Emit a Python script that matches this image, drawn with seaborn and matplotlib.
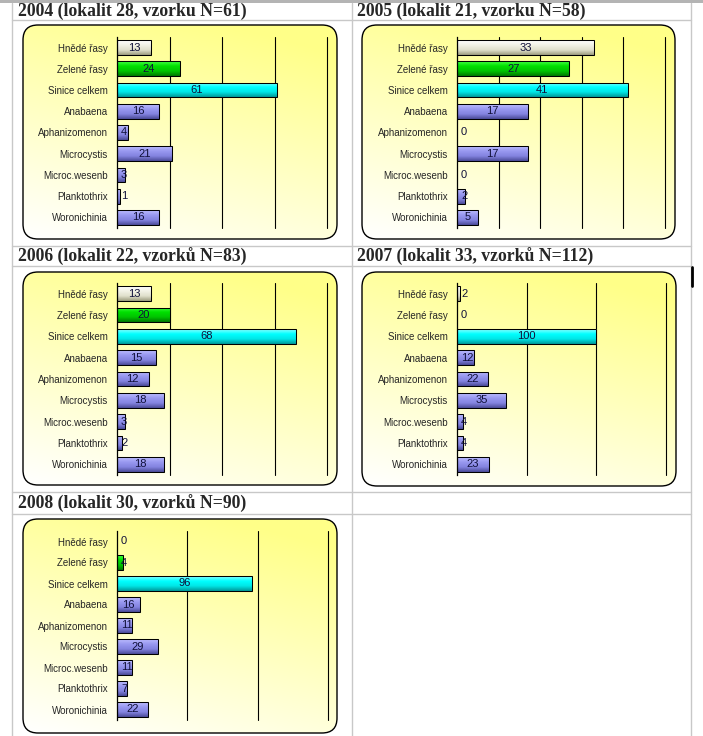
import numpy as np
import matplotlib.pyplot as plt
from matplotlib.colors import LinearSegmentedColormap, to_rgb
from matplotlib.patches import FancyBboxPatch, Rectangle
import seaborn as sns

# ---- data ----
categories = ["Hnědé řasy", "Zelené řasy", "Sinice celkem", "Anabaena",
              "Aphanizomenon", "Microcystis", "Microc.wesenb", "Planktothrix",
              "Woronichinia"]
values_2004 = [13, 24, 61, 16, 4, 21, 3, 1, 16]
values_2005 = [33, 27, 41, 17, 0, 17, 0, 2, 5]
values_2006 = [13, 20, 68, 15, 12, 18, 3, 2, 18]
values_2007 = [2, 0, 100, 12, 22, 35, 4, 4, 23]
values_2008 = [0, 4, 96, 16, 11, 29, 11, 7, 22]
titles = ["2004 (lokalit 28, vzorku N=61)",
          "2005 (lokalit 21, vzorku N=58)",
          "2006 (lokalit 22, vzorků N=83)",
          "2007 (lokalit 33, vzorků N=112)",
          "2008 (lokalit 30, vzorků N=90)"]
x_max = [80, 50, 80, 150, 150]
x_step = [20, 10, 20, 50, 50]
all_values = [values_2004, values_2005, values_2006, values_2007, values_2008]

# ---- layout (pixels of the 703x736 page) ----
W, H = 703, 736
AXES_PX = [(117, 37, 327, 228), (457, 37, 665, 228),
           (117, 283, 327, 475), (457, 283, 666, 475),
           (117, 531, 328, 720)]
BOX_PX = [(23, 25, 337, 239), (362, 25, 675, 239),
          (23, 272, 337, 485), (362, 272, 676, 486),
          (23, 519, 337, 733)]
TITLE_PX = [(18, 16), (357, 16), (18, 262), (357, 262), (18, 509)]

# bar shading top -> bottom
BROWN = ["#ffffff", "#f2f2e6", "#e0e0cc", "#9e9e80"]
GREEN = ["#44ff44", "#00e000", "#00c400", "#007a00"]
CYAN = ["#88ffff", "#00ffff", "#00e6e6", "#009a9a"]
BLUE = ["#bcbcff", "#9898f0", "#8484e0", "#4c4c9a"]
bar_shades = [BROWN, GREEN, CYAN] + [BLUE] * 6
YELLOW = np.array(to_rgb("#ffff88"))
WHITE = np.array([1.0, 1.0, 1.0])
LINE_GREY = "#c8c8c8"

sns.set_style("white")
plt.rcParams["font.family"] = ["Liberation Sans", "DejaVu Sans"]

fig = plt.figure(figsize=(W / 100, H / 100), dpi=100)
fig.patch.set_facecolor("white")

# background layer: table lines, titles, rounded panels
bg = fig.add_axes([0, 0, 1, 1], zorder=0)
bg.set_xlim(0, W)
bg.set_ylim(H, 0)
bg.axis("off")

for y in [20, 246, 266, 492, 514]:
    bg.plot([12, 691], [y, y], color=LINE_GREY, lw=1)
for x in [12, 352, 691]:
    bg.plot([x, x], [3, H], color=LINE_GREY, lw=1)

yy, xx = np.mgrid[0:1:120j, 0:1:120j]
t = np.clip(0.8 * (1 - yy) + 0.3 * xx, 0, 1)[..., None]
panel_grad = WHITE * (1 - t) + YELLOW * t

for (x0, y0, x1, y1), (tx, ty), title in zip(BOX_PX, TITLE_PX, titles):
    box = FancyBboxPatch((x0, y0), x1 - x0, y1 - y0,
                         boxstyle="round,pad=0,rounding_size=15",
                         facecolor="none", edgecolor="black", lw=1.0, zorder=3)
    bg.add_patch(box)
    im = bg.imshow(panel_grad, extent=(x0, x1, y1, y0), origin="upper",
                   aspect="auto", zorder=1)
    im.set_clip_path(box)
    bg.text(tx, ty, title, family=["Liberation Serif", "DejaVu Serif"],
            fontweight="bold", fontsize=12.7, va="baseline", ha="left")

# grey header strip and text cursor
bg.add_patch(Rectangle((0, 0), W, 3, facecolor="#b4b4b4", edgecolor="none", zorder=5))
bg.plot([692, 692], [267, 286], color="black", lw=2)
bg.set_xlim(0, W)
bg.set_ylim(H, 0)


def shade_image(stops):
    cmap = LinearSegmentedColormap.from_list("bar", stops)
    return cmap(np.linspace(0, 1, 40))[:, None, :]


for vals, (x0, y0, x1, y1), xm, step in zip(all_values, AXES_PX, x_max, x_step):
    ax = fig.add_axes([x0 / W, 1 - y1 / H, (x1 - x0) / W, (y1 - y0) / H], zorder=2)
    ax.set_facecolor("none")
    sns.barplot(x=vals, y=categories, hue=categories, orient="h", legend=False,
                palette=[s[1] for s in bar_shades], saturation=1, width=0.7,
                edgecolor="black", linewidth=0.75, ax=ax)

    # shaded fill inside each bar
    for patch, shades in zip(ax.patches, bar_shades):
        px, py, pw, ph = patch.get_x(), patch.get_y(), patch.get_width(), patch.get_height()
        if pw <= 0:
            patch.set_visible(False)
            continue
        img = ax.imshow(shade_image(shades), extent=(px, px + pw, py + ph, py),
                        origin="upper", aspect="auto", zorder=1.5)
        img.set_clip_path(patch)
        patch.set_facecolor("none")
        patch.set_zorder(2)

    ax.set_xlim(0, xm)
    ax.set_ylim(len(categories) - 0.5, -0.5)
    ax.set_xticks(np.arange(step, xm + step, step))
    ax.xaxis.grid(True, color="black", lw=0.8)
    for gl in ax.get_xgridlines():
        gl.set_clip_on(False)
    ax.yaxis.grid(False)
    ax.set_axisbelow(True)
    ax.tick_params(axis="x", length=0, labelbottom=False)
    ax.tick_params(axis="y", length=0, pad=6.5, labelsize=7)
    ax.set_yticks(np.arange(-0.5, len(categories), 1), minor=True)
    ax.tick_params(axis="y", which="minor", length=3, width=0.8, direction="out",
                   color="black")
    for side in ["top", "right", "bottom"]:
        ax.spines[side].set_visible(False)
    ax.spines["left"].set_color("black")
    ax.spines["left"].set_linewidth(0.9)
    ax.set_xlabel("")
    ax.set_ylabel("")

    # value labels, centred in the bar but kept clear of the axis
    scale = (x1 - x0) / xm
    for i, v in enumerate(vals):
        txt = str(v)
        centre_px = max(v * scale / 2, 4 + len(txt) * 3.1)
        ax.text(centre_px / scale, i, txt, ha="center", va="center",
                fontsize=8, color="#10103a", zorder=4)

fig.savefig("out.png", dpi=100, facecolor="white")
